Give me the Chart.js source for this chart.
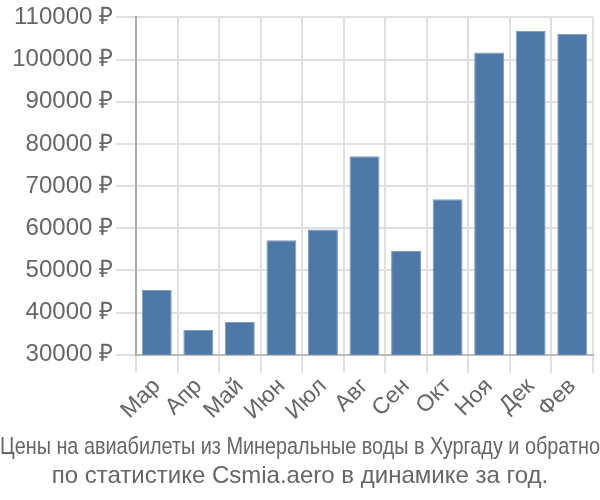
<!DOCTYPE html>
<html><head><meta charset="utf-8">
<script src="https://cdn.jsdelivr.net/npm/chart.js@4"></script>
<style>html,body{margin:0;padding:0;background:#fff}#w{width:600px;height:500px}</style>
</head><body><div id="w"><canvas id="c"></canvas></div>
<script>
const categories = ["Мар","Апр","Май","Июн","Июл","Авг","Сен","Окт","Ноя","Дек","Фев"];
const prices = [45400, 35900, 37800, 57200, 59700, 77100, 54600, 66900, 101700, 106800, 106100];
const titleLines = ["Цены на авиабилеты из Минеральные воды в Хургаду и обратно","по статистике Csmia.aero в динамике за год."];
const yMin = 30000, yMax = 110000, yStep = 10000;
Chart.defaults.font.family = "'Liberation Sans', Arial, sans-serif";
Chart.defaults.color = "#666";
new Chart(document.getElementById('c'), {
  type: 'bar',
  data: { labels: categories, datasets: [{ data: prices, backgroundColor: '#4e78a6', borderColor: '#7f9cc0', borderWidth: 1, categoryPercentage: 0.8, barPercentage: 0.9 }] },
  options: {
    responsive: true, maintainAspectRatio: false, animation: false,
    layout: { padding: { left: 0, right: 0, top: 2, bottom: 0 } },
    plugins: {
      legend: { display: false }, tooltip: { enabled: false },
      title: { display: true, position: 'bottom', text: titleLines, font: { size: 24, weight: 'normal' }, color: '#666', padding: { top: 8, bottom: 9 }, lineHeight: 1.15 }
    },
    scales: {
      x: { grid: { color: '#e0e0e0', lineWidth: 2, tickLength: 18, offset: true }, border: { color: '#bbb', width: 2 },
           afterFit: s => { s.paddingRight = Math.max(s.paddingRight, 7); },
           ticks: { font: { size: 23 }, autoSkip: false, maxRotation: 45, minRotation: 45, color: '#666', padding: 0 } },
      y: { min: yMin, max: yMax, grid: { color: '#e0e0e0', lineWidth: 2, tickLength: 20 }, border: { color: '#aaa', width: 2 },
           afterFit: s => { s.width = 136; },
           ticks: { stepSize: yStep, font: { size: 24 }, color: '#666', padding: 3, callback: v => v + ' ₽' } }
    }
  }
});
</script></body></html>
